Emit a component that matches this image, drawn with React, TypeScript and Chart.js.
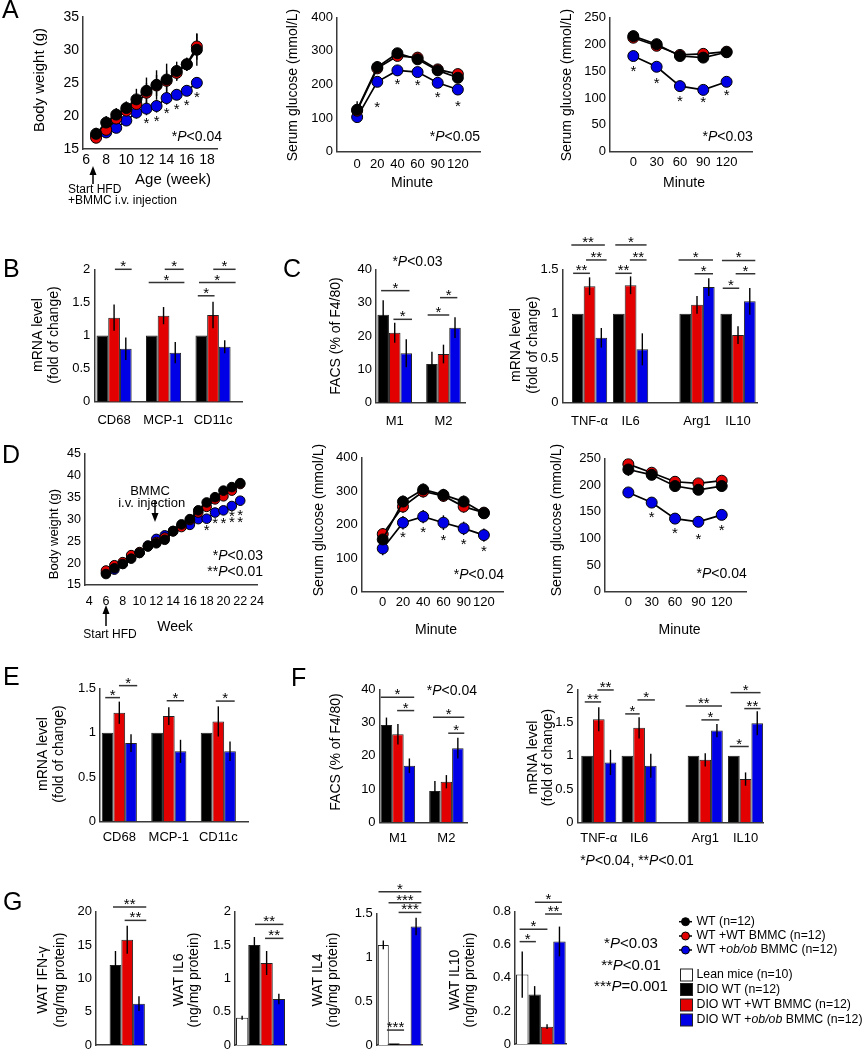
import React, { useEffect, useRef } from 'react';
import { Chart, registerables } from 'chart.js';

Chart.register(...registerables);

const FONT = '"Liberation Sans", Arial, Helvetica, sans-serif';
const RED = '#e30000';
const BLUE = '#0000e6';
const BLACK = '#000000';
const WHITE = '#ffffff';
const AXIS = '#3a3a3a';

// ===== A: body weight (HFD from week 7) =====
const weeksA = [7, 8, 9, 10, 11, 12, 13, 14, 15, 16, 17];
const weekTicksA = [6, 8, 10, 12, 14, 16, 18];
const bwA_WT = [17.3, 19.0, 20.2, 21.2, 22.5, 23.8, 24.7, 25.5, 26.8, 27.8, 30.0];
const bwA_WTerr = [0.9, 1.0, 1.0, 1.0, 1.6, 2.0, 2.2, 2.4, 1.4, 1.0, 2.4];
const bwA_WTB = [16.7, 17.9, 19.6, 20.8, 21.8, 23.5, 24.6, 25.3, 26.5, 27.8, 30.5];
const bwA_WTBerr = [0.8, 0.8, 0.9, 1.0, 1.2, 1.5, 1.6, 1.6, 1.2, 1.0, 2.0];
const bwA_OB = [17.0, 17.5, 18.2, 19.3, 20.5, 21.1, 21.5, 22.7, 23.2, 23.8, 25.0];
const bwA_OBerr = [0.8, 0.8, 0.8, 0.8, 0.9, 1.0, 1.0, 1.0, 0.8, 0.8, 0.8];

// ===== A: GTT =====
const gttMinutes = ['0', '20', '40', '60', '90', '120'];
const gttA_WT = [125, 252, 293, 275, 242, 220];
const gttA_WTerr = [25, 18, 15, 15, 15, 15];
const gttA_WTB = [122, 248, 285, 280, 245, 231];
const gttA_WTBerr = [15, 15, 15, 15, 15, 15];
const gttA_OB = [103, 208, 242, 237, 205, 185];
const gttA_OBerr = [15, 15, 15, 15, 15, 15];

// ===== A: ITT =====
const ittMinutes = ['0', '30', '60', '90', '120'];
const ittA_WT = [215, 200, 178, 175, 185];
const ittA_WTerr = [10, 10, 8, 8, 6];
const ittA_WTB = [212, 197, 180, 182, 186];
const ittA_WTBerr = [8, 8, 6, 6, 6];
const ittA_OB = [178, 158, 122, 115, 130];
const ittA_OBerr = [6, 8, 5, 5, 6];

// ===== B / E: mRNA =====
const mrnaGenes = ['CD68', 'MCP-1', 'CD11c'];
const mrnaB_WT = [1, 1, 1];
const mrnaB_WTB = [1.27, 1.3, 1.31];
const mrnaB_WTBerr = [0.2, 0.13, 0.2];
const mrnaB_OB = [0.8, 0.74, 0.83];
const mrnaB_OBerr = [0.17, 0.16, 0.1];

const mrnaE_WT = [1, 1, 1];
const mrnaE_WTB = [1.225, 1.187, 1.127];
const mrnaE_WTBerr = [0.125, 0.1, 0.17];
const mrnaE_OB = [0.883, 0.79, 0.79];
const mrnaE_OBerr = [0.1, 0.13, 0.11];

// ===== C / F: FACS =====
const facsTypes = ['M1', 'M2'];
const facsC_WT = [26.4, 11.6];
const facsC_WTerr = [4.3, 3.7];
const facsC_WTB = [21.0, 14.6];
const facsC_WTBerr = [3.0, 2.8];
const facsC_OB = [14.8, 22.5];
const facsC_OBerr = [4.2, 3.1];

const facsF_WT = [29.3, 9.4];
const facsF_WTerr = [2.2, 3.0];
const facsF_WTB = [26.5, 12.2];
const facsF_WTBerr = [3.1, 2.0];
const facsF_OB = [17.0, 22.3];
const facsF_OBerr = [2.2, 3.1];

// ===== C / F: cytokine mRNA =====
const cytoGenes = ['TNF-\u03b1', 'IL6', 'Arg1', 'IL10'];
const cytoC_WT = [1, 1, 1, 1];
const cytoC_WTB = [1.31, 1.32, 1.1, 0.76];
const cytoC_WTBerr = [0.1, 0.1, 0.1, 0.1];
const cytoC_OB = [0.73, 0.6, 1.3, 1.14];
const cytoC_OBerr = [0.11, 0.18, 0.1, 0.15];

const cytoF_WT = [1, 1, 1, 1];
const cytoF_WTB = [1.55, 1.42, 0.94, 0.65];
const cytoF_WTBerr = [0.18, 0.16, 0.1, 0.1];
const cytoF_OB = [0.9, 0.85, 1.38, 1.49];
const cytoF_OBerr = [0.19, 0.18, 0.1, 0.18];

// ===== D: body weight (HFD from week 6) =====
const weeksD = [6, 7, 8, 9, 10, 11, 12, 13, 14, 15, 16, 17, 18, 19, 20, 21, 22];
const weekTicksD = [4, 6, 8, 10, 12, 14, 16, 18, 20, 22, 24];
const bwD_WT = [17.5, 18.8, 19.8, 21.0, 22.3, 23.8, 24.5, 25.3, 27.3, 28.8, 30.0, 32.0, 33.8, 35.0, 36.5, 37.3, 38.2];
const bwD_WTB = [18.3, 19.5, 20.2, 21.8, 22.5, 23.8, 24.8, 25.8, 27.2, 28.2, 29.8, 31.5, 32.8, 34.5, 35.2, 36.5, 38.0];
const bwD_OB = [17.8, 18.5, 19.8, 21.3, 22.3, 24.0, 25.5, 26.3, 27.3, 28.5, 28.7, 30.0, 30.1, 31.5, 32.0, 33.0, 34.2];
const bwD_err = [0.9, 0.9, 0.9, 0.9, 0.8, 0.8, 0.9, 0.9, 0.8, 0.8, 0.9, 0.9, 0.9, 0.9, 0.9, 0.9, 0.9];

// ===== D: GTT / ITT =====
const gttD_WT = [156, 269, 305, 289, 269, 234];
const gttD_WTerr = [15, 18, 18, 18, 18, 15];
const gttD_WTB = [172, 254, 299, 286, 254, 236];
const gttD_WTBerr = [18, 18, 18, 18, 18, 15];
const gttD_OB = [129, 206, 224, 206, 189, 169];
const gttD_OBerr = [20, 20, 20, 22, 20, 20];

const ittD_WT = [229, 219, 198, 191, 198];
const ittD_WTerr = [12, 10, 8, 8, 10];
const ittD_WTB = [239, 223, 206, 203, 208];
const ittD_WTBerr = [8, 8, 8, 8, 8];
const ittD_OB = [186, 167, 137, 131, 144];
const ittD_OBerr = [6, 6, 8, 10, 8];

// ===== G: WAT cytokines (lean, DIO WT, DIO WT+WT BMMC, DIO WT+ob/ob BMMC) =====
const gGroups = ['Lean mice (n=10)', 'DIO WT (n=12)', 'DIO WT +WT BMMC (n=12)', 'DIO WT +ob/ob BMMC (n=12)'];
const watIFNg = [0, 12.0, 15.8, 6.2];
const watIFNgErr = [0, 2.1, 2.1, 1.1];
const watIL6 = [0.41, 1.5, 1.23, 0.69];
const watIL6Err = [0.03, 0.12, 0.18, 0.08];
const watIL4 = [1.14, 0.02, 0.003, 1.35];
const watIL4Err = [0.05, 0, 0, 0.1];
const watIL10 = [0.42, 0.3, 0.105, 0.62];
const watIL10Err = [0.14, 0.05, 0.015, 0.09];

// ---------------------------------------------------------------------
type Box = [number, number, number, number];
type Sig = [number, number, number, number, string]; // group, from bar, to bar, y value, label
type Star = [number, number, number]; // dataset, point index, px below

const range = (n: number) => Array.from({ length: n }, (_, i) => i);
const fmt = (v: number) => String(Math.round(v * 1000) / 1000);

function xAxis(min: number, max: number, ticks: number[], labels: string[], size: number, pad: number, show = true) {
  return {
    type: 'linear', min, max, bounds: 'data', offset: false,
    grid: { display: false, drawTicks: false },
    border: { display: true, color: AXIS, width: 1.5 },
    ticks: {
      display: show, color: '#000', font: { family: FONT, size }, padding: pad,
      autoSkip: false, maxRotation: 0, minRotation: 0,
      callback: (_v: number, i: number) => labels[i],
    },
    afterBuildTicks: (s: any) => { s.ticks = ticks.map((v) => ({ value: v })); },
  };
}

function yAxis(min: number, max: number, step: number, size = 13) {
  return {
    type: 'linear', min, max,
    grid: { display: false, drawTicks: false },
    border: { display: true, color: AXIS, width: 1.5 },
    ticks: { stepSize: step, color: '#000', font: { family: FONT, size }, padding: 4, callback: (v: number) => fmt(v) },
  };
}

function lineDS(label: string, xs: number[], ys: number[], err: number[], color: string, r: number) {
  return {
    label, data: xs.map((x, i) => ({ x, y: ys[i] })), err,
    borderColor: '#000', borderWidth: 1.7, pointRadius: r, pointBackgroundColor: color,
    pointBorderColor: '#000', pointBorderWidth: 1, tension: 0, fill: false,
  };
}

function barDS(label: string, xs: number[], ys: number[], err: number[], color: string, cp: number) {
  return {
    label, data: xs.map((x, i) => ({ x, y: ys[i] })), err,
    backgroundColor: color, borderColor: '#222', borderWidth: 1,
    categoryPercentage: cp, barPercentage: 1,
  };
}

function drawAst(ctx: CanvasRenderingContext2D, s: string, x: number, cy: number, size = 15) {
  ctx.save();
  ctx.fillStyle = '#000';
  ctx.font = `${size}px ${FONT}`;
  ctx.textAlign = 'center';
  ctx.textBaseline = 'alphabetic';
  ctx.fillText(s, x, cy + size * 0.57);
  ctx.restore();
}

function drawErr(chart: any) {
  const ctx = chart.ctx;
  const ys = chart.scales.y;
  ctx.save();
  ctx.strokeStyle = '#000';
  ctx.lineWidth = 1.4;
  chart.data.datasets.forEach((ds: any, di: number) => {
    if (!ds.err) return;
    const meta = chart.getDatasetMeta(di);
    meta.data.forEach((el: any, i: number) => {
      const e = ds.err[i];
      if (!e) return;
      const v = ds.data[i].y;
      ctx.beginPath();
      ctx.moveTo(el.x, ys.getPixelForValue(v - e));
      ctx.lineTo(el.x, ys.getPixelForValue(v + e));
      ctx.stroke();
    });
  });
  ctx.restore();
}

function decoPlugin(errBefore: boolean, sigs: Sig[], stars: Star[]) {
  return {
    id: 'deco',
    beforeDatasetsDraw(chart: any) { if (errBefore) drawErr(chart); },
    afterDatasetsDraw(chart: any) {
      if (!errBefore) drawErr(chart);
      const ctx = chart.ctx;
      const ys = chart.scales.y;
      sigs.forEach(([g, a, b, v, label]) => {
        const m0 = chart.getDatasetMeta(0).data[g];
        const m1 = chart.getDatasetMeta(1).data[g];
        const bw = m1.x - m0.x;
        const xa = m0.x + a * bw;
        const xb = m0.x + b * bw;
        const y = ys.getPixelForValue(v);
        ctx.save();
        ctx.strokeStyle = '#333';
        ctx.lineWidth = 1.5;
        ctx.beginPath();
        ctx.moveTo(xa, y);
        ctx.lineTo(xb, y);
        ctx.stroke();
        ctx.restore();
        drawAst(ctx, label, (xa + xb) / 2, y - 6.5);
      });
      stars.forEach(([di, i, dy]) => {
        const el = chart.getDatasetMeta(di).data[i];
        drawAst(ctx, '*', el.x, el.y + dy);
      });
    },
  };
}

interface Panel {
  plot: Box;
  type: 'line' | 'bar';
  datasets: () => any[];
  x: any;
  y: any;
  sigs?: Sig[];
  stars?: Star[];
}

const PADL = 50, PADT = 45, PADR = 25, XH = 32;

function buildSpec(p: Panel) {
  const [x0, y0, x1, y1] = p.plot;
  const cx = Math.floor(x0) - PADL;
  const cy = Math.max(0, Math.floor(y0) - PADT);
  const cw = Math.ceil(x1) + PADR - cx;
  const ch = Math.ceil(y1) + XH - cy;
  const yW = x0 - cx;
  const xH = cy + ch - y1;
  const make = () => ({
    type: p.type,
    data: { datasets: p.datasets() },
    options: {
      animation: false, responsive: false, devicePixelRatio: 1,
      layout: { padding: { left: 0, top: y0 - cy, right: cx + cw - x1, bottom: 0 } },
      plugins: { legend: { display: false }, tooltip: { enabled: false } },
      scales: {
        x: { ...p.x, afterFit: (s: any) => { s.height = xH; } },
        y: { ...p.y, afterFit: (s: any) => { s.width = yW; } },
      },
    },
    plugins: [decoPlugin(p.type === 'line', p.sigs || [], p.stars || [])],
  });
  return { cx, cy, cw, ch, make };
}

const gttIdx = range(gttMinutes.length);
const ittIdx = range(ittMinutes.length);
const geneIdx = range(mrnaGenes.length);
const facsIdx = range(facsTypes.length);
const cytoPos = [0, 1, 2.62, 3.62];
const cytoPosF = [0, 1, 2.64, 3.64];

function triBars(xs: number[], a: number[], b: number[], be: number[], c: number[], ce: number[], cp: number, ae?: number[]) {
  return [
    barDS('WT', xs, a, ae || [], BLACK, cp),
    barDS('WT +WT BMMC', xs, b, be, RED, cp),
    barDS('WT +ob/ob BMMC', xs, c, ce, BLUE, cp),
  ];
}

function watBars(vals: number[], errs: number[], cp: number) {
  const colors = [WHITE, BLACK, RED, BLUE];
  return vals.map((v, k) => barDS(gGroups[k], [0], [v], [errs[k]], colors[k], cp));
}

const PANELS: Panel[] = [
  // A1
  {
    plot: [83, 16.7, 217, 149], type: 'line',
    datasets: () => [
      lineDS('WT', weeksA, bwA_WT, bwA_WTerr, BLACK, 5.5),
      lineDS('WT +WT BMMC', weeksA, bwA_WTB, bwA_WTBerr, RED, 5.5),
      lineDS('WT +ob/ob BMMC', weeksA, bwA_OB, bwA_OBerr, BLUE, 5.5),
    ],
    x: xAxis(5.7, 19.0, weekTicksA, weekTicksA.map(String), 14, 3),
    y: yAxis(15, 35, 5, 14),
    stars: [[2, 5, 11], [2, 6, 11], [2, 7, 11], [2, 8, 11], [2, 9, 11], [2, 10, 11]],
  },
  // A2
  {
    plot: [337, 17.3, 480, 151.7], type: 'line',
    datasets: () => [
      lineDS('WT', gttIdx, gttA_WT, gttA_WTerr, BLACK, 5.5),
      lineDS('WT +WT BMMC', gttIdx, gttA_WTB, gttA_WTBerr, RED, 5.5),
      lineDS('WT +ob/ob BMMC', gttIdx, gttA_OB, gttA_OBerr, BLUE, 5.5),
    ],
    x: xAxis(-1, 6.1, gttIdx, gttMinutes, 13, 4.5),
    y: yAxis(0, 400, 100),
    stars: [[2, 1, 22], [2, 2, 10], [2, 3, 9], [2, 4, 11], [2, 5, 13]],
  },
  // A3
  {
    plot: [610, 17.3, 752, 151.7], type: 'line',
    datasets: () => [
      lineDS('WT', ittIdx, ittA_WT, ittA_WTerr, BLACK, 5.5),
      lineDS('WT +WT BMMC', ittIdx, ittA_WTB, ittA_WTBerr, RED, 5.5),
      lineDS('WT +ob/ob BMMC', ittIdx, ittA_OB, ittA_OBerr, BLUE, 5.5),
    ],
    x: xAxis(-1, 5.09, ittIdx, ittMinutes, 13, 3),
    y: yAxis(0, 250, 50),
    stars: [[2, 0, 11], [2, 1, 13], [2, 2, 11], [2, 3, 9], [2, 4, 10]],
  },
  // B
  {
    plot: [94.3, 269.3, 242.7, 401.7], type: 'bar',
    datasets: () => triBars(geneIdx, mrnaB_WT, mrnaB_WTB, mrnaB_WTBerr, mrnaB_OB, mrnaB_OBerr, 0.71),
    x: xAxis(-0.4, 2.6, geneIdx, mrnaGenes, 13, 10.5),
    y: yAxis(0, 2, 0.5),
    sigs: [
      [0, 1.07, 2.5, 2.0, '*'],
      [1, 1.1, 2.72, 2.0, '*'], [1, -0.27, 2.78, 1.8, '*'],
      [2, 1.02, 2.93, 2.0, '*'], [2, -0.2, 2.93, 1.8, '*'], [2, -0.3, 1.13, 1.6, '*'],
    ],
  },
  // C1
  {
    plot: [375.9, 269.3, 465.9, 402.7], type: 'bar',
    datasets: () => triBars(facsIdx, facsC_WT, facsC_WTB, facsC_WTBerr, facsC_OB, facsC_OBerr, 0.71, facsC_WTerr),
    x: xAxis(-0.386, 1.46, facsIdx, facsTypes, 13, 10.5),
    y: yAxis(0, 40, 10),
    sigs: [
      [0, -0.18, 2.28, 33.6, '*'], [0, 0.89, 2.5, 25.0, '*'],
      [1, 0.7, 2.2, 31.5, '*'], [1, -0.37, 1.5, 26.3, '*'],
    ],
  },
  // C2
  {
    plot: [562.5, 269.3, 757.7, 402.7], type: 'bar',
    datasets: () => triBars(cytoPos, cytoC_WT, cytoC_WTB, cytoC_WTBerr, cytoC_OB, cytoC_OBerr, 0.86),
    x: xAxis(-0.66, 4.1, cytoPos, cytoGenes, 13, 10.5),
    y: yAxis(0, 1.5, 0.5),
    sigs: [
      [0, -0.55, 2.3, 1.774, '**'], [0, 0.7, 2.45, 1.605, '**'], [0, -0.4, 1.03, 1.455, '**'],
      [1, -0.3, 2.36, 1.774, '*'], [1, 0.94, 2.36, 1.605, '**'], [1, -0.3, 1.1, 1.455, '**'],
      [2, -0.57, 2.36, 1.605, '*'], [2, 0.79, 2.36, 1.45, '*'],
      [3, -0.37, 2.47, 1.6, '*'], [3, 0.8, 2.47, 1.45, '*'], [3, -0.3, 1.1, 1.287, '*'],
    ],
  },
  // D1
  {
    plot: [85, 453.3, 257, 585], type: 'line',
    datasets: () => [
      lineDS('WT', weeksD, bwD_WT, bwD_err, BLACK, 4.8),
      lineDS('WT +WT BMMC', weeksD, bwD_WTB, bwD_err, RED, 4.8),
      lineDS('WT +ob/ob BMMC', weeksD, bwD_OB, bwD_err, BLUE, 4.8),
    ],
    x: xAxis(3.5, 24, weekTicksD, weekTicksD.map(String), 12.5, 9),
    y: yAxis(15, 45, 5, 12.5),
    stars: [[2, 12, 8], [2, 13, 7], [2, 14, 9], [2, 15, 6], [2, 15, 12.5], [2, 16, 11], [2, 16, 17.5]],
  },
  // D2
  {
    plot: [361.7, 457.7, 503.3, 591.7], type: 'line',
    datasets: () => [
      lineDS('WT', gttIdx, gttD_WT, gttD_WTerr, BLACK, 5.5),
      lineDS('WT +WT BMMC', gttIdx, gttD_WTB, gttD_WTBerr, RED, 5.5),
      lineDS('WT +ob/ob BMMC', gttIdx, gttD_OB, gttD_OBerr, BLUE, 5.5),
    ],
    x: xAxis(-1.04, 5.96, gttIdx, gttMinutes, 13, 3.2),
    y: yAxis(0, 400, 100),
    stars: [[2, 1, 11], [2, 2, 12], [2, 3, 14], [2, 4, 12], [2, 5, 12]],
  },
  // D3
  {
    plot: [605, 458.3, 746, 591.7], type: 'line',
    datasets: () => [
      lineDS('WT', ittIdx, ittD_WT, ittD_WTerr, BLACK, 5.5),
      lineDS('WT +WT BMMC', ittIdx, ittD_WTB, ittD_WTBerr, RED, 5.5),
      lineDS('WT +ob/ob BMMC', ittIdx, ittD_OB, ittD_OBerr, BLUE, 5.5),
    ],
    x: xAxis(-1, 5.04, ittIdx, ittMinutes, 13, 3.2),
    y: yAxis(0, 250, 50),
    stars: [[2, 1, 11], [2, 2, 11], [2, 3, 14], [2, 4, 12]],
  },
  // E
  {
    plot: [100, 688.3, 248, 821.5], type: 'bar',
    datasets: () => triBars(geneIdx, mrnaE_WT, mrnaE_WTB, mrnaE_WTBerr, mrnaE_OB, mrnaE_OBerr, 0.71),
    x: xAxis(-0.39, 2.6, geneIdx, mrnaGenes, 13, 8.5),
    y: yAxis(0, 1.5, 0.5),
    sigs: [
      [0, -0.2, 1.06, 1.395, '*'], [0, 0.97, 2.53, 1.53, '*'],
      [1, 0.82, 2.3, 1.36, '*'], [2, 0.79, 2.4, 1.356, '*'],
    ],
  },
  // F1
  {
    plot: [379.6, 689.3, 467.7, 822.3], type: 'bar',
    datasets: () => triBars(facsIdx, facsF_WT, facsF_WTB, facsF_WTBerr, facsF_OB, facsF_OBerr, 0.71, facsF_WTerr),
    x: xAxis(-0.378, 1.44, facsIdx, facsTypes, 13, 8.5),
    y: yAxis(0, 40, 10),
    sigs: [
      [0, -0.5, 2.42, 37.6, '*'], [0, 0.93, 2.42, 33.6, '*'],
      [1, -0.17, 2.56, 31.6, '*'], [1, 1.16, 2.56, 26.8, '*'],
    ],
  },
  // F2
  {
    plot: [577.4, 689.3, 763.3, 822.3], type: 'bar',
    datasets: () => triBars(cytoPosF, cytoF_WT, cytoF_WTB, cytoF_WTBerr, cytoF_OB, cytoF_OBerr, 0.87),
    x: xAxis(-0.53, 4.08, cytoPosF, cytoGenes, 13, 8.5),
    y: yAxis(0, 2, 0.5),
    sigs: [
      [0, 0.88, 2.28, 1.99, '**'], [0, -0.2, 1.2, 1.81, '**'],
      [1, 0.86, 2.35, 1.84, '*'], [1, -0.19, 1.05, 1.63, '*'],
      [2, -0.67, 2.43, 1.75, '**'], [2, 0.67, 2.2, 1.54, '*'],
      [3, -0.28, 2.28, 1.95, '*'], [3, 0.89, 2.28, 1.71, '**'], [3, -0.35, 1.27, 1.14, '*'],
    ],
  },
  // G1
  {
    plot: [96, 911.7, 146.7, 1045], type: 'bar',
    datasets: () => watBars(watIFNg, watIFNgErr, 0.927),
    x: xAxis(-0.5, 0.5, [0], [''], 13, 4, false),
    y: yAxis(0, 20, 5),
    sigs: [[0, 0.79, 3.62, 20.7, '**'], [0, 1.78, 3.62, 18.7, '**']],
  },
  // G2
  {
    plot: [235, 911.7, 286, 1045], type: 'bar',
    datasets: () => watBars(watIL6, watIL6Err, 0.96),
    x: xAxis(-0.5, 0.5, [0], [''], 13, 4, false),
    y: yAxis(0, 2, 0.5),
    sigs: [[0, 1.05, 3.37, 1.81, '**'], [0, 1.87, 3.37, 1.6, '**']],
  },
  // G3
  {
    plot: [376.7, 913.3, 422.7, 1045], type: 'bar',
    datasets: () => watBars(watIL4, watIL4Err, 0.95),
    x: xAxis(-0.5, 0.5, [0], [''], 13, 4, false),
    y: yAxis(0, 1.5, 0.5),
    sigs: [
      [0, -0.44, 3.48, 1.746, '*'], [0, 0.48, 3.48, 1.62, '***'], [0, 1.4, 3.48, 1.51, '***'],
      [0, 0.33, 1.9, 0.17, '***'],
    ],
  },
  // G4
  {
    plot: [515, 911.7, 566.7, 1044], type: 'bar',
    datasets: () => watBars(watIL10, watIL10Err, 0.96),
    x: xAxis(-0.5, 0.5, [0], [''], 13, 4, false),
    y: yAxis(0, 0.8, 0.2),
    sigs: [
      [0, 1.02, 3.2, 0.857, '*'], [0, 1.84, 3.2, 0.786, '**'],
      [0, -0.21, 2.03, 0.694, '*'], [0, -0.21, 1.1, 0.619, '*'],
    ],
  },
];

const SPECS = PANELS.map(buildSpec);

// ---------------------------------------------------------------------
type Seg = [string, boolean];

function rich(ctx: CanvasRenderingContext2D, segs: Seg[], x: number, y: number, size: number, align: 'left' | 'center' | 'right' = 'center') {
  const fonts = segs.map(([, it]) => `${it ? 'italic ' : ''}${size}px ${FONT}`);
  const widths = segs.map(([t], i) => { ctx.font = fonts[i]; return ctx.measureText(t).width; });
  const total = widths.reduce((a, b) => a + b, 0);
  let cx = align === 'left' ? x : align === 'right' ? x - total : x - total / 2;
  ctx.textAlign = 'left';
  ctx.textBaseline = 'middle';
  ctx.fillStyle = '#000';
  segs.forEach(([t], i) => { ctx.font = fonts[i]; ctx.fillText(t, cx, y); cx += widths[i]; });
}
const txt = (ctx: CanvasRenderingContext2D, s: string, x: number, y: number, size: number, align: 'left' | 'center' | 'right' = 'center') =>
  rich(ctx, [[s, false]], x, y, size, align);

function vtxt(ctx: CanvasRenderingContext2D, s: string, x: number, y: number, size = 14) {
  ctx.save();
  ctx.translate(x, y);
  ctx.rotate(-Math.PI / 2);
  txt(ctx, s, 0, 0, size, 'center');
  ctx.restore();
}

const pv = (stars: string, rest: string): Seg[] => [[stars, false], ['P', true], [rest, false]];

function arrow(ctx: CanvasRenderingContext2D, x: number, yFrom: number, yTip: number) {
  const dir = yTip < yFrom ? 1 : -1;
  ctx.save();
  ctx.strokeStyle = '#000';
  ctx.fillStyle = '#000';
  ctx.lineWidth = 1.5;
  ctx.beginPath();
  ctx.moveTo(x, yFrom);
  ctx.lineTo(x, yTip + dir * 6);
  ctx.stroke();
  ctx.beginPath();
  ctx.moveTo(x, yTip);
  ctx.lineTo(x - 3.5, yTip + dir * 9);
  ctx.lineTo(x + 3.5, yTip + dir * 9);
  ctx.closePath();
  ctx.fill();
  ctx.restore();
}

function drawOverlay(ctx: CanvasRenderingContext2D) {
  // panel letters
  const L: [string, number, number][] = [
    ['A', 2, 11], ['B', 3, 270], ['C', 283, 270], ['D', 2, 456], ['E', 3, 678], ['F', 291, 679], ['G', 3, 903],
  ];
  L.forEach(([s, x, y]) => txt(ctx, s, x, y, 25, 'left'));

  // A1
  vtxt(ctx, 'Body weight (g)', 40, 80, 15);
  txt(ctx, 'Age (week)', 173, 180, 15);
  rich(ctx, pv('*', '<0.04'), 222, 137, 14, 'right');
  arrow(ctx, 93, 184, 166);
  txt(ctx, 'Start HFD', 68, 190, 12, 'left');
  txt(ctx, '+BMMC i.v. injection', 68, 201, 12, 'left');
  // A2
  vtxt(ctx, 'Serum glucose (mmol/L)', 293.5, 85, 14);
  txt(ctx, 'Minute', 412, 183, 14);
  rich(ctx, pv('*', '<0.05'), 480, 137, 14, 'right');
  // A3
  vtxt(ctx, 'Serum glucose (mmol/L)', 567, 85, 14);
  txt(ctx, 'Minute', 684, 183, 14);
  rich(ctx, pv('*', '<0.03'), 752.7, 137, 14, 'right');
  // B
  vtxt(ctx, 'mRNA level', 38.5, 335, 14);
  vtxt(ctx, '(fold of change)', 54, 335, 14);
  // C
  vtxt(ctx, 'FACS (% of F4/80)', 335.8, 336, 14);
  rich(ctx, pv('*', '<0.03'), 417.5, 261.7, 14, 'center');
  vtxt(ctx, 'mRNA level', 516, 345, 14);
  vtxt(ctx, '(fold of change)', 532.8, 345, 14);
  // D1
  vtxt(ctx, 'Body weight (g)', 54, 534, 13);
  txt(ctx, 'BMMC', 150, 491.7, 13);
  txt(ctx, 'i.v. injection', 151.7, 503.3, 13);
  arrow(ctx, 155, 500, 522);
  rich(ctx, pv('*', '<0.03'), 263, 556, 14, 'right');
  rich(ctx, pv('**', '<0.01'), 263, 572.3, 14, 'right');
  arrow(ctx, 106, 626, 605);
  txt(ctx, 'Start HFD', 110, 635, 12);
  txt(ctx, 'Week', 175, 627, 14);
  // D2 / D3
  vtxt(ctx, 'Serum glucose (mmol/L)', 319.3, 520, 14);
  txt(ctx, 'Minute', 436, 630, 14);
  rich(ctx, pv('*', '<0.04'), 504, 575, 14, 'right');
  vtxt(ctx, 'Serum glucose (mmol/L)', 556.7, 520, 14);
  txt(ctx, 'Minute', 679.6, 630, 14);
  rich(ctx, pv('*', '<0.04'), 746.7, 574, 14, 'right');
  // E
  vtxt(ctx, 'mRNA level', 43, 754, 14);
  vtxt(ctx, '(fold of change)', 59, 754, 14);
  // F
  vtxt(ctx, 'FACS (% of F4/80)', 335.8, 752, 14);
  rich(ctx, pv('*', '<0.04'), 426.8, 690.7, 14, 'left');
  vtxt(ctx, 'mRNA level', 532.8, 757.5, 14);
  vtxt(ctx, '(fold of change)', 547.7, 757.5, 14);
  rich(ctx, [['*', false], ['P', true], ['<0.04, **', false], ['P', true], ['<0.01', false]], 637, 860.7, 14, 'center');
  // G
  vtxt(ctx, 'WAT IFN-\u03b3', 43.3, 980, 14);
  vtxt(ctx, '(ng/mg protein)', 60, 980, 14);
  vtxt(ctx, 'WAT IL6', 179, 980, 14);
  vtxt(ctx, '(ng/mg protein)', 194, 980, 14);
  vtxt(ctx, 'WAT IL4', 318.3, 980, 14);
  vtxt(ctx, '(ng/mg protein)', 333.3, 980, 14);
  vtxt(ctx, 'WAT IL10', 455, 980, 14);
  vtxt(ctx, '(ng/mg protein)', 470, 980, 14);
  rich(ctx, pv('*', '<0.03'), 631, 944, 15, 'center');
  rich(ctx, pv('**', '<0.01'), 631, 965.7, 15, 'center');
  rich(ctx, pv('***', '=0.001'), 631, 986.7, 15, 'center');

  // legend: line series
  const LS = 12.3;
  const lineLeg: [Seg[], string, number][] = [
    [[['WT (n=12)', false]], BLACK, 921.7],
    [[['WT +WT BMMC (n=12)', false]], RED, 936],
    [[['WT +', false], ['ob/ob', true], [' BMMC (n=12)', false]], BLUE, 950],
  ];
  lineLeg.forEach(([segs, col, y]) => {
    ctx.save();
    ctx.strokeStyle = '#000';
    ctx.lineWidth = 1.5;
    ctx.beginPath();
    ctx.moveTo(679, y);
    ctx.lineTo(692, y);
    ctx.stroke();
    ctx.beginPath();
    ctx.arc(685.5, y, 4, 0, Math.PI * 2);
    ctx.fillStyle = col;
    ctx.fill();
    ctx.lineWidth = 1;
    ctx.stroke();
    ctx.restore();
    rich(ctx, segs, 696.5, y, LS, 'left');
  });
  const boxLeg: [Seg[], string, number][] = [
    [[['Lean mice (n=10)', false]], WHITE, 975],
    [[['DIO WT (n=12)', false]], BLACK, 989.5],
    [[['DIO WT +WT BMMC (n=12)', false]], RED, 1005],
    [[['DIO WT +', false], ['ob/ob', true], [' BMMC (n=12)', false]], BLUE, 1020],
  ];
  boxLeg.forEach(([segs, col, y]) => {
    ctx.save();
    ctx.fillStyle = col;
    ctx.fillRect(680.5, y - 6, 12, 12);
    ctx.strokeStyle = '#222';
    ctx.lineWidth = 1;
    ctx.strokeRect(680.5, y - 6, 12, 12);
    ctx.restore();
    rich(ctx, segs, 696.5, y, LS, 'left');
  });
}

function ChartCanvas({ spec }: { spec: ReturnType<typeof buildSpec> }) {
  const ref = useRef<HTMLCanvasElement>(null);
  useEffect(() => {
    const chart = new Chart(ref.current as HTMLCanvasElement, spec.make() as any);
    return () => chart.destroy();
  }, [spec]);
  return (
    <canvas
      ref={ref}
      width={spec.cw}
      height={spec.ch}
      style={{ position: 'absolute', left: spec.cx, top: spec.cy, width: spec.cw, height: spec.ch }}
    />
  );
}

function Overlay() {
  const ref = useRef<HTMLCanvasElement>(null);
  useEffect(() => {
    const c = ref.current as HTMLCanvasElement;
    const ctx = c.getContext('2d') as CanvasRenderingContext2D;
    ctx.clearRect(0, 0, c.width, c.height);
    drawOverlay(ctx);
  }, []);
  return (
    <canvas
      ref={ref}
      width={863}
      height={1050}
      style={{ position: 'absolute', left: 0, top: 0, width: 863, height: 1050, pointerEvents: 'none' }}
    />
  );
}

export default function App() {
  return (
    <div style={{ position: 'absolute', left: 0, top: 0, width: 863, height: 1050, background: '#fff', overflow: 'hidden' }}>
      {SPECS.map((s, i) => <ChartCanvas key={i} spec={s} />)}
      <Overlay />
    </div>
  );
}
